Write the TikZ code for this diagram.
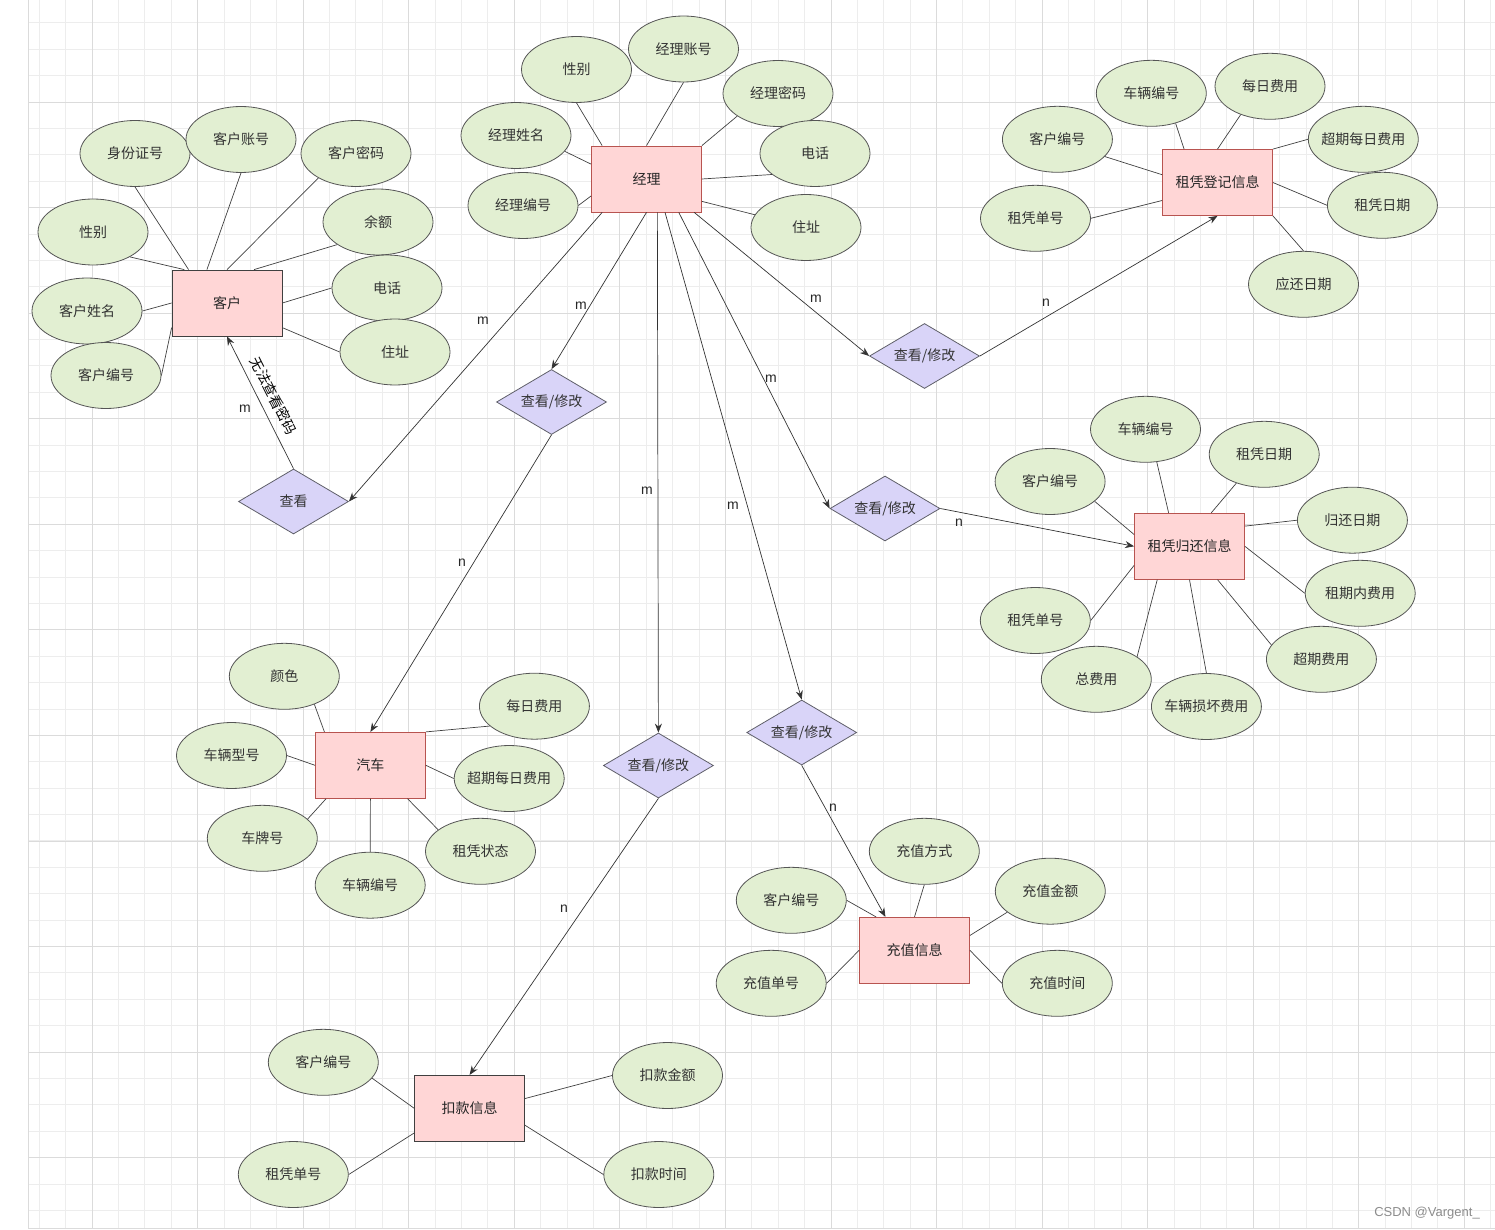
\documentclass[tikz,border=0pt]{standalone}
\usepackage{fontspec}
\setmainfont{Noto Sans CJK SC}
\newfontfamily\latinfont{Liberation Sans}
\usetikzlibrary{shapes.geometric,arrows.meta}
\definecolor{attrfill}{RGB}{226,239,210}
\definecolor{attrline}{RGB}{85,85,85}
\definecolor{entityfill}{RGB}{255,214,214}
\definecolor{entityline}{RGB}{184,84,80}
\definecolor{relfill}{RGB}{217,212,248}
\definecolor{relline}{RGB}{95,95,105}
\definecolor{textgray}{RGB}{51,51,51}
\tikzset{
        every node/.style={font=\fontsize{14}{16}\selectfont},
        entity/.style={rectangle, draw=entityline, fill=entityfill, line width=0.8pt, minimum width=110pt, minimum height=66pt, inner sep=0pt, text=black!85},
        darkentity/.style={entity, draw=black!75},
        attr/.style={ellipse, draw=attrline, fill=attrfill, line width=0.8pt, minimum width=110pt, minimum height=66pt, inner xsep=-5pt, inner ysep=0pt, text=textgray},
        rel/.style={diamond, draw=relline, fill=relfill, line width=0.8pt, minimum width=110pt, minimum height=65pt, aspect=1.7, inner sep=0pt, text=textgray},
        card/.style={font=\latinfont\fontsize{14}{16}\selectfont, text=black!85, inner sep=0pt},
        attredge/.style={draw=black!75, line width=0.7pt},
        reledge/.style={draw=black!80, line width=0.7pt, -{Stealth[length=9pt,width=7pt]}},
        minorgrid/.style={draw=black!7, line width=0.8pt},
        majorgrid/.style={draw=black!14, line width=0.8pt}
          }

\begin{document}
\begin{tikzpicture}[x=1pt, y=-1pt]
        \useasboundingbox (0,0) rectangle (1495,1230);
        % grid
        \foreach \i in {0,...,55}
          \draw[minorgrid] ({39.2+26.39*\i},0) -- ({39.2+26.39*\i},1228);
        \foreach \i in {0,...,45}
          \draw[minorgrid] (28,{22.8+26.39*\i}) -- (1495,{22.8+26.39*\i});
        \foreach \i in {0,...,13}
          \draw[majorgrid] ({92+105.57*\i},0) -- ({92+105.57*\i},1228);
        \foreach \i in {0,...,10}
          \draw[majorgrid] (28,{102+105.57*\i}) -- (1495,{102+105.57*\i});
        \draw[majorgrid] (28,0) -- (28,1228) -- (1495,1228);

        % 客户
        \node[darkentity] (kh) at (227,303) {客户};
        \node[attr] (kh1) at (135,153.5) {身份证号};
        \node[attr] (kh2) at (241,139.5) {客户账号};
        \node[attr] (kh3) at (356,153.5) {客户密码};
        \node[attr] (kh4) at (93,232) {性别};
        \node[attr] (kh5) at (378,222) {余额};
        \node[attr] (kh6) at (87,311) {客户姓名};
        \node[attr] (kh7) at (387,288) {电话};
        \node[attr] (kh8) at (106,375.5) {客户编号};
        \node[attr] (kh9) at (395,352) {住址};
        \draw[attredge] (kh1.south) -- (kh.139);
        \draw[attredge] (kh2.south) -- (kh.121);
        \draw[attredge] (kh3.213) -- (kh.north);
        \draw[attredge] (kh4.326) -- (kh.142);
        \draw[attredge] (kh5.209) -- (kh.51);
        \draw[attredge] (kh6.east) -- (kh.west);
        \draw[attredge] (kh7.west) -- (kh.east);
        \draw[attredge] (kh8.east) -- (kh.204);
        \draw[attredge] (kh9.west) -- (kh.336);

        % 经理
        \node[entity] (jl) at (646.5,179) {经理};
        \node[attr] (jl1) at (576.5,69.5) {性别};
        \node[attr] (jl2) at (683.5,49) {经理账号};
        \node[attr] (jl3) at (778,93.5) {经理密码};
        \node[attr] (jl4) at (516,135.5) {经理姓名};
        \node[attr] (jl5) at (815,153.5) {电话};
        \node[attr] (jl6) at (523,205.5) {经理编号};
        \node[attr] (jl7) at (806,227.5) {住址};
        \draw[attredge] (jl1.south) -- (jl.143);
        \draw[attredge] (jl2.south) -- (jl.north);
        \draw[attredge] (jl3.209) -- (jl.north east);
        \draw[attredge] (jl4.342) -- (jl.165);
        \draw[attredge] (jl5.206) -- (jl.east);
        \draw[attredge] (jl6.east) -- (jl.197);
        \draw[attredge] (jl7.166) -- (jl.338);

        % 租凭登记信息
        \node[entity] (dj) at (1217.5,182.5) {租凭登记信息};
        \node[attr] (dj1) at (1151.3,93.3) {车辆编号};
        \node[attr] (dj2) at (1270,86.3) {每日费用};
        \node[attr] (dj3) at (1057.4,139.3) {客户编号};
        \node[attr] (dj4) at (1363.3,139.3) {超期每日费用};
        \node[attr] (dj5) at (1035.5,218.3) {租凭单号};
        \node[attr] (dj6) at (1382.4,205.3) {租凭日期};
        \node[attr] (dj7) at (1303.5,284.3) {应还日期};
        \draw[attredge] (dj1.309) -- (dj.135);
        \draw[attredge] (dj2.224) -- (dj.north);
        \draw[attredge] (dj3.340) -- (dj.172);
        \draw[attredge] (dj4.west) -- (dj.north east);
        \draw[attredge] (dj5.east) -- (dj.198);
        \draw[attredge] (dj6.west) -- (dj.east);
        \draw[attredge] (dj7.north) -- (dj.south east);

        % 租凭归还信息
        \node[entity] (gh) at (1189.5,546.3) {租凭归还信息};
        \node[attr] (gh1) at (1145.5,429.3) {车辆编号};
        \node[attr] (gh2) at (1264.2,454.3) {租凭日期};
        \node[attr] (gh3) at (1050.1,481.5) {客户编号};
        \node[attr] (gh4) at (1352.4,520.2) {归还日期};
        \node[attr] (gh5) at (1360.2,593.3) {租期内费用};
        \node[attr] (gh6) at (1035.3,620.5) {租凭单号};
        \node[attr] (gh7) at (1321.4,659.3) {超期费用};
        \node[attr] (gh8) at (1096.3,679.3) {总费用};
        \node[attr] (gh9) at (1206.4,706.5) {车辆损坏费用};
        \draw[attredge] (gh1.289) -- (gh.122);
        \draw[attredge] (gh2.226) -- (gh.57);
        \draw[attredge] (gh3.336) -- (gh.168);
        \draw[attredge] (gh4.west) -- (gh.20);
        \draw[attredge] (gh5.west) -- (gh.east);
        \draw[attredge] (gh6.east) -- (gh.199);
        \draw[attredge] (gh7.164) -- (gh.310);
        \draw[attredge] (gh8.29) -- (gh.226);
        \draw[attredge] (gh9.north) -- (gh.south);

        % 汽车
        \node[entity] (qc) at (370.4,765.3) {汽车};
        \node[attr] (qc1) at (284.3,676.3) {颜色};
        \node[attr] (qc2) at (534.4,706.2) {每日费用};
        \node[attr] (qc3) at (231.5,755.5) {车辆型号};
        \node[attr] (qc4) at (509.2,778.5) {超期每日费用};
        \node[attr] (qc5) at (262.3,838.3) {车牌号};
        \node[attr] (qc6) at (480.5,851.3) {租凭状态};
        \node[attr] (qc7) at (370.2,885.2) {车辆编号};
        \draw[attredge] (qc1.317) -- (qc.144);
        \draw[attredge] (qc2.204) -- (qc.north east);
        \draw[attredge] (qc3.east) -- (qc.west);
        \draw[attredge] (qc4.west) -- (qc.east);
        \draw[attredge] (qc5.23) -- (qc.217);
        \draw[attredge] (qc6.153) -- (qc.318);
        \draw[attredge] (qc7.north) -- (qc.south);

        % 充值信息
        \node[entity] (cz) at (914.5,950.3) {充值信息};
        \node[attr] (cz1) at (924.3,851.3) {充值方式};
        \node[attr] (cz2) at (1050.3,891.2) {充值金额};
        \node[attr] (cz3) at (791.3,900.3) {客户编号};
        \node[attr] (cz4) at (771.2,983.3) {充值单号};
        \node[attr] (cz5) at (1057.3,983.3) {充值时间};
        \draw[attredge] (cz1.south) -- (cz.north);
        \draw[attredge] (cz2.206) -- (cz.15);
        \draw[attredge] (cz3.east) -- (cz.139);
        \draw[attredge] (cz4.east) -- (cz.west);
        \draw[attredge] (cz5.west) -- (cz.east);

        % 扣款信息
        \node[darkentity] (kk) at (469.6,1108.3) {扣款信息};
        \node[attr] (kk1) at (323.3,1062.3) {客户编号};
        \node[attr] (kk2) at (667.5,1075.5) {扣款金额};
        \node[attr] (kk3) at (293.3,1174.5) {租凭单号};
        \node[attr] (kk4) at (658.8,1174.5) {扣款时间};
        \draw[attredge] (kk1.342) -- (kk.west);
        \draw[attredge] (kk2.west) -- (kk.10);
        \draw[attredge] (kk3.east) -- (kk.204);
        \draw[attredge] (kk4.west) -- (kk.343);

        % relations
        \node[rel] (ck) at (293.5,501.5) {查看};
        \node[rel] (xg1) at (551.5,402) {查看/修改};
        \node[rel] (xg2) at (924.5,356) {查看/修改};
        \node[rel] (xg3) at (885,508.5) {查看/修改};
        \node[rel] (xg4) at (801.7,732.5) {查看/修改};
        \node[rel] (xg5) at (658.4,765.5) {查看/修改};

        \draw[reledge] (ck.north) -- node[midway, sloped, above, inner sep=8pt, text=black] {无法查看密码} (kh.south);
        \draw[reledge] (jl.217) -- (ck.east);
        \draw[reledge] (jl.south) -- (xg1.north);
        \draw[reledge] (jl.288) -- (xg5.north);
        \draw[reledge] (jl.299) -- (xg4.north);
        \draw[reledge] (jl.314) -- (xg3.west);
        \draw[reledge] (jl.325) -- (xg2.west);
        \draw[reledge] (xg1.south) -- (qc.north);
        \draw[reledge] (xg5.south) -- (kk.north);
        \draw[reledge] (xg4.south) -- (cz.131);
        \draw[reledge] (xg3.east) -- (gh.west);
        \draw[reledge] (xg2.east) -- (dj.south);

        % cardinalities
        \node[card] (m1) at (245,409) {m};
        \node[card] (m2) at (483,321) {m};
        \node[card] (m3) at (581,306) {m};
        \node[card] (m4) at (647,491) {m};
        \node[card] (m5) at (733,506) {m};
        \node[card] (m6) at (771,379) {m};
        \node[card] (m7) at (816,299) {m};
        \node[card] (n1) at (462,563) {n};
        \node[card] (n2) at (564,909) {n};
        \node[card] (n3) at (833,808) {n};
        \node[card] (n4) at (959,523) {n};
        \node[card] (n5) at (1046,303) {n};

        \node[card, text=black!45, font=\latinfont\fontsize{13}{15}\selectfont] (wm) at (1427,1213) {CSDN @Vargent\_};
\end{tikzpicture}
\end{document}
